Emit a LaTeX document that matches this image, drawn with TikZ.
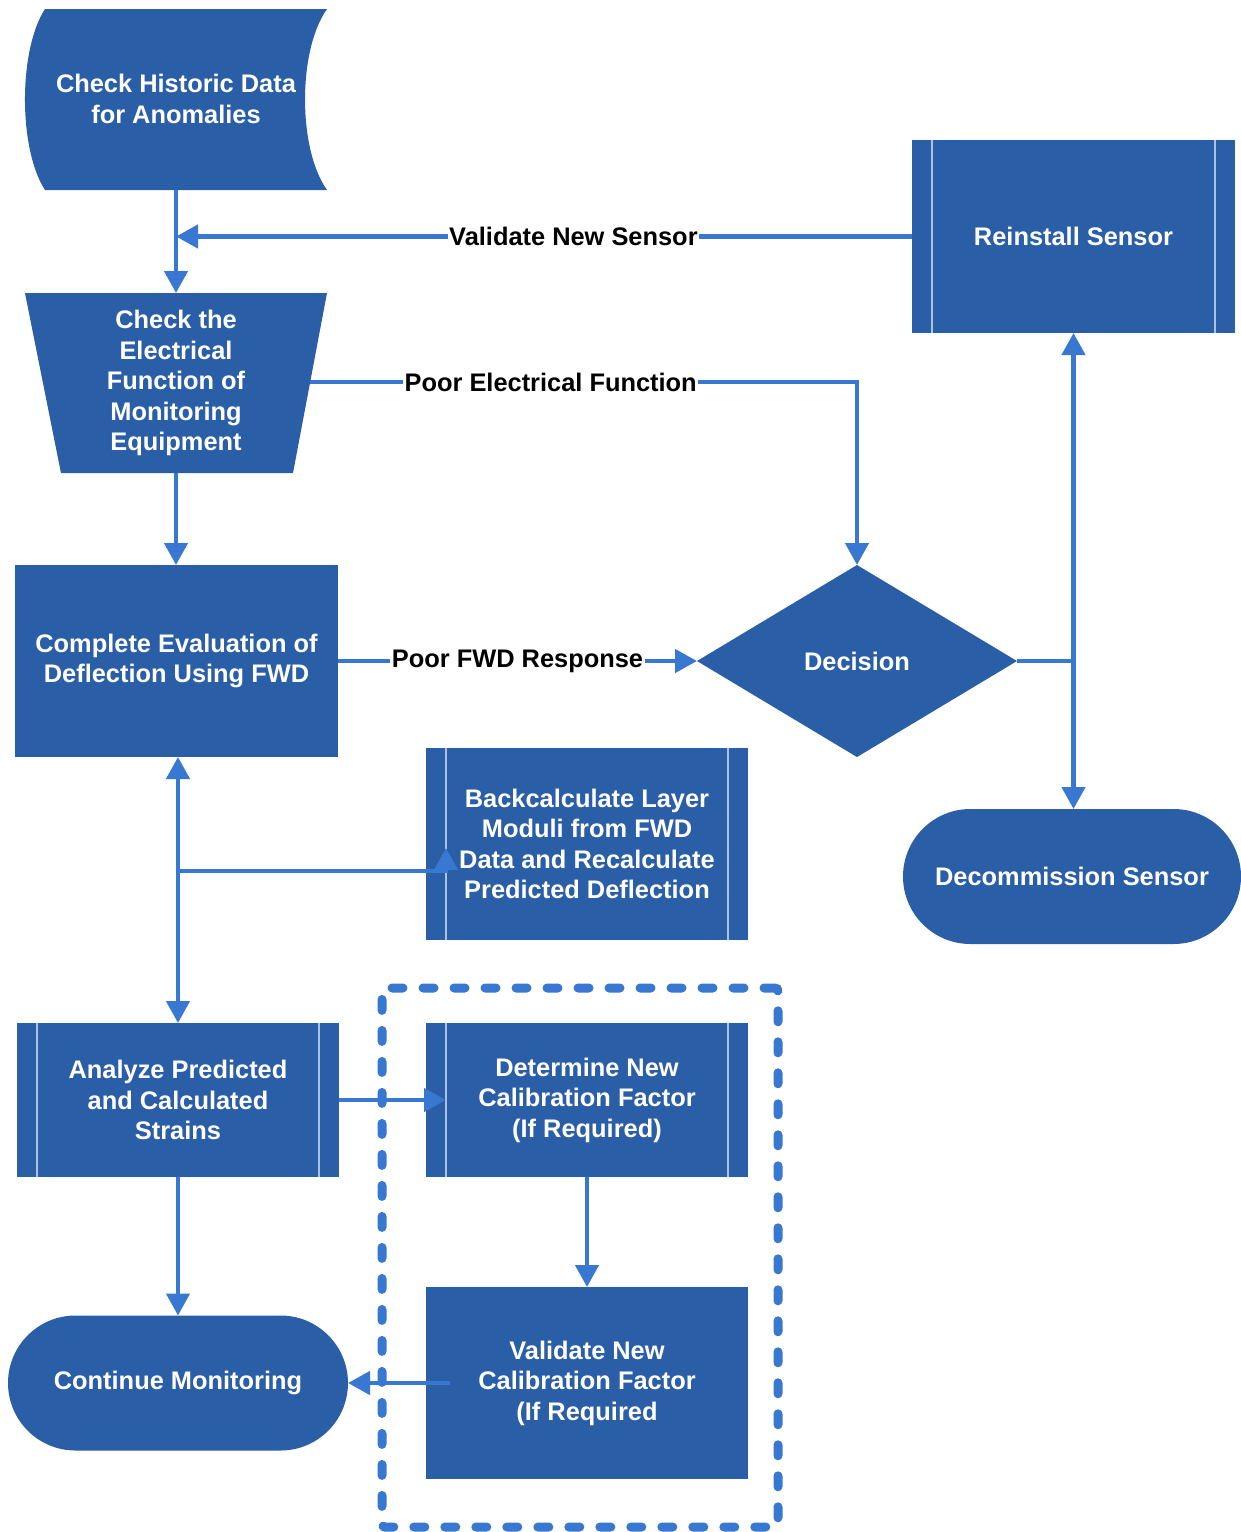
\documentclass[tikz,border=0pt]{standalone}
\usepackage{fontspec}
\setmainfont{Liberation Sans}
\usetikzlibrary{shapes.geometric,shapes.misc,arrows.meta,calc}
\definecolor{boxblue}{RGB}{42,94,166}
\definecolor{lineblue}{RGB}{56,120,208}
\definecolor{innerline}{RGB}{172,194,226}
\begin{document}
\begin{tikzpicture}[x=1pt,y=-1pt,
  txt/.style={text=white, font=\fontsize{25.4}{30.5}\selectfont\bfseries, align=center},
  base/.style={txt, inner sep=0pt, outer sep=0pt},
  rectbox/.style={base, rectangle, fill=boxblue},
  stadium/.style={base, rounded rectangle, fill=boxblue, minimum height=135pt},
  decision/.style={base, diamond, fill=boxblue, minimum width=320pt, minimum height=192pt},
  lbl/.style={fill=white, text=black, font=\fontsize{25.4}{30.5}\selectfont\bfseries, inner sep=1.5pt},
  wire/.style={draw=lineblue, line width=4.5pt},
  conn/.style={wire, -{Triangle[length=22pt,width=23pt]}},
  biconn/.style={wire, {Triangle[length=22pt,width=23pt]}-{Triangle[length=22pt,width=23pt]}},
  innerl/.style={draw=innerline, line width=1.5pt},
  groupbox/.style={draw=lineblue, line width=9pt, line cap=round, dash pattern=on 11pt off 20pt, rounded corners=3pt, inner sep=0pt}
]
\useasboundingbox (0,0) rectangle (1241,1532);

% group frame
\node[groupbox, minimum width=396pt, minimum height=539pt] (grp) at (580,1257.5) {};

% stored data shape
\path[fill=boxblue] (45,9) -- (327,9) .. controls (297.7,50) and (297.7,149) .. (327,190) -- (45,190) .. controls (18.3,149) and (18.3,50) .. (45,9) -- cycle;
\node[base, minimum width=302pt, minimum height=181pt] (hist) at (176,99) {Check Historic Data\\for Anomalies};

% manual operation (trapezoid)
\path[fill=boxblue] (25,293) -- (327,293) -- (293,473) -- (61,473) -- cycle;
\node[base, minimum width=302pt, minimum height=180pt] (trap) at (176,383) {Check the\\Electrical\\Function of\\Monitoring\\Equipment};
\coordinate (trapE) at (310,382);

\node[rectbox, minimum width=323pt, minimum height=192pt] (fwd) at (176.5,661) {Complete Evaluation of\\Deflection Using FWD};
\node[rectbox, minimum width=323pt, minimum height=193pt] (reinst) at (1073.5,236.5) {Reinstall Sensor};
\node[rectbox, minimum width=322pt, minimum height=192pt] (back) at (587,844) {Backcalculate Layer\\Moduli from FWD\\Data and Recalculate\\Predicted Deflection};
\node[rectbox, minimum width=322pt, minimum height=154pt] (analyze) at (178,1100) {Analyze Predicted\\and Calculated\\Strains};
\node[rectbox, minimum width=322pt, minimum height=154pt] (det) at (587,1100) {Determine New\\Calibration Factor\\(If Required)};
\node[rectbox, minimum width=322pt, minimum height=192pt] (val) at (587,1383) {Validate New\\Calibration Factor\\(If Required};
\node[stadium, minimum width=340pt] (cont) at (178,1383) {Continue Monitoring};
\node[stadium, minimum width=338pt] (decom) at (1072,876.5) {Decommission Sensor};
\node[decision] (dec) at (857,661) {Decision};

% predefined-process inner lines
\foreach \n in {reinst,back,analyze,det}{
  \draw[innerl] ([xshift=20pt]\n.north west) -- ([xshift=20pt]\n.south west);
  \draw[innerl] ([xshift=-20pt]\n.north east) -- ([xshift=-20pt]\n.south east);
}

% connectors
\draw[conn] (hist.south) -- (trap.north);
\draw[conn] (reinst.west) -- (reinst.west -| hist.south) node[lbl, pos=0.46] {Validate New Sensor};
\draw[conn] (trapE) -| (dec.north) node[lbl, pos=0.22] {Poor Electrical Function};
\draw[conn] (trap.south) -- (trap.south |- fwd.north);
\draw[conn] (fwd.east) -- (dec.west) node[lbl, midway] {Poor FWD Response};
\coordinate (j1) at (dec.east -| reinst.south);
\draw[wire] (dec.east) -- (j1);
\draw[conn] (j1) -- (reinst.south);
\draw[conn] (j1) -- (j1 |- decom.north);
\draw[biconn] (analyze.north |- fwd.south) -- (analyze.north);
\coordinate (j2) at (178,871);
\draw[conn] (j2) -| ([xshift=20pt,yshift=-4pt]back.west);
\draw[conn] (analyze.east) -- ([xshift=20pt]det.west);
\draw[conn] (analyze.south) -- (cont.north);
\draw[conn] (det.south) -- (val.north);
\draw[conn] ([xshift=24pt]val.west) -- (cont.east);
\end{tikzpicture}
\end{document}
